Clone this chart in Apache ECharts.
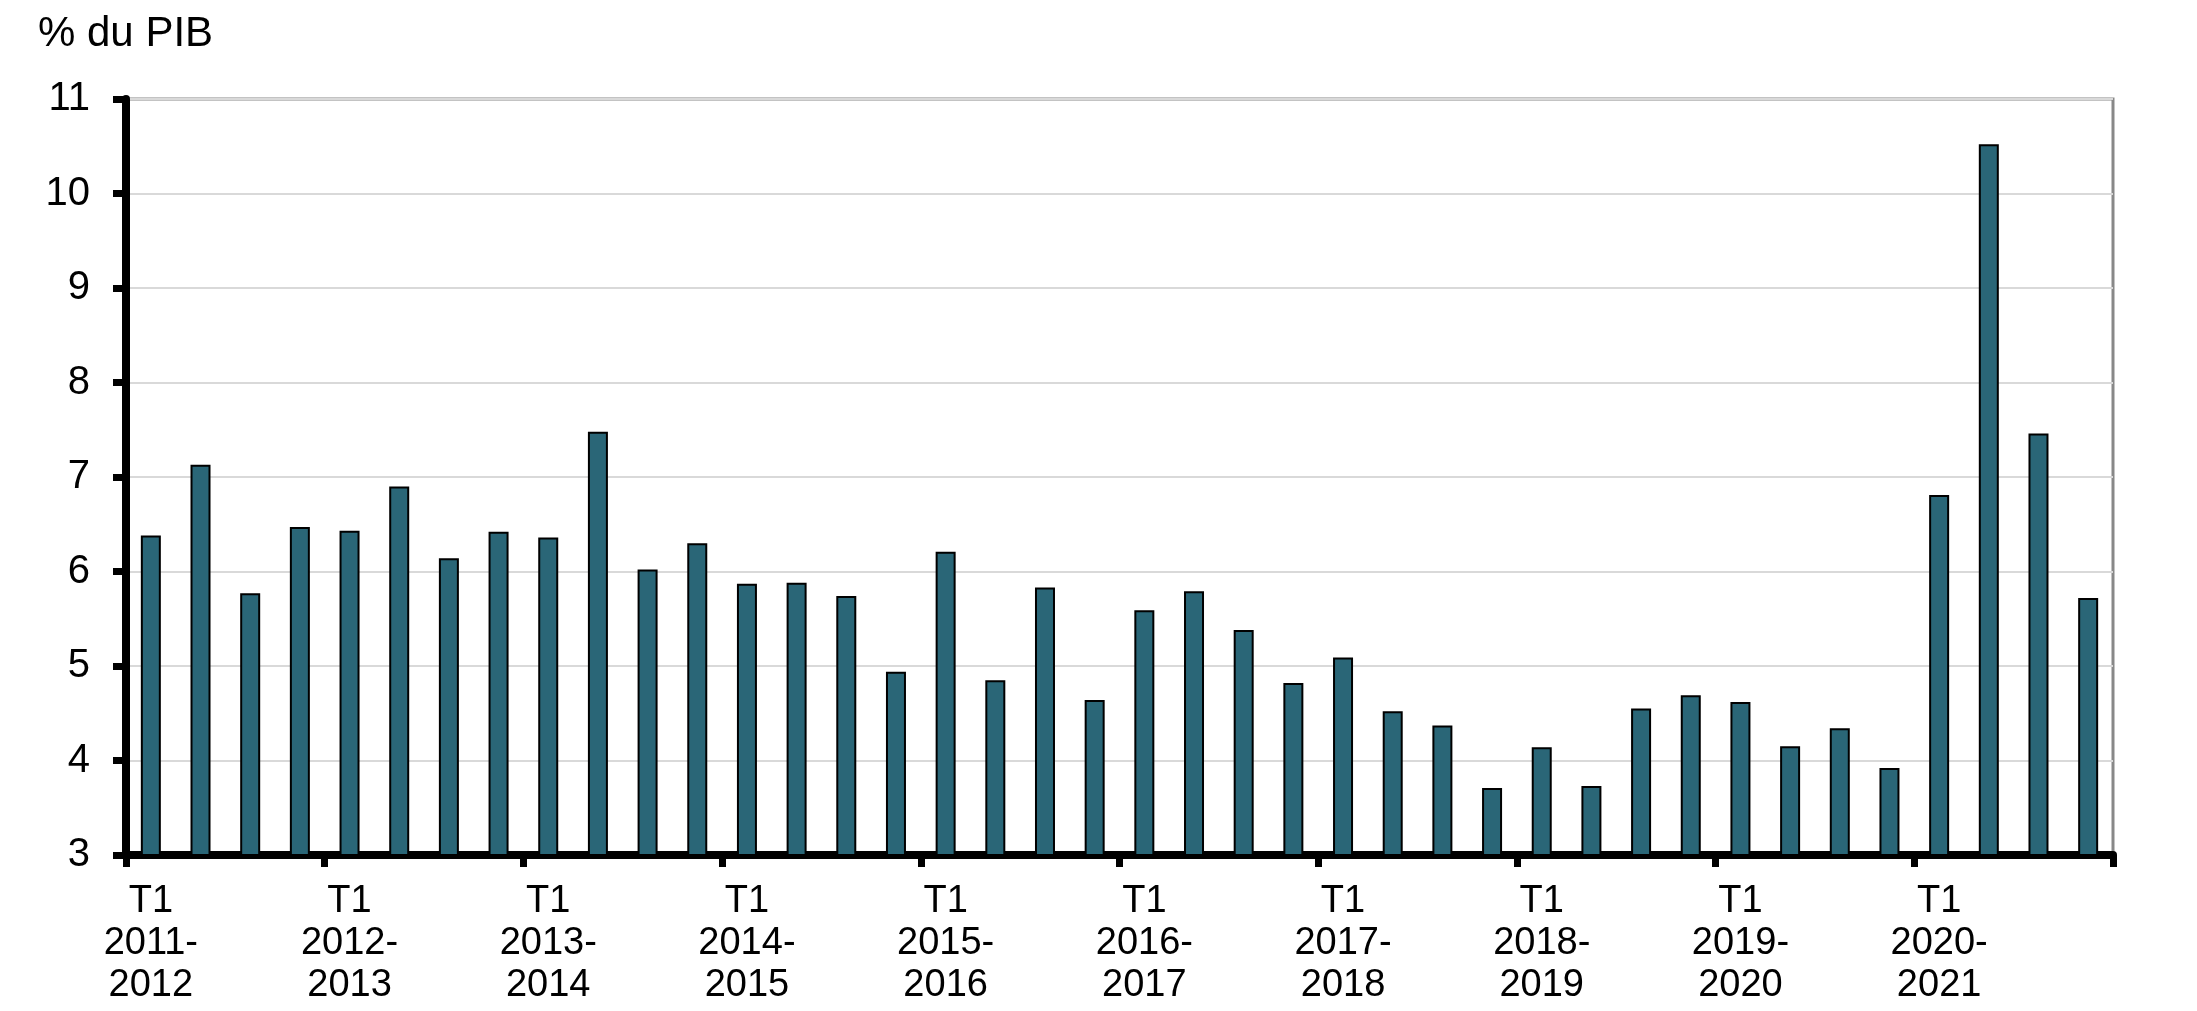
<!DOCTYPE html>
<html>
<head>
<meta charset="utf-8">
<script src="https://cdn.jsdelivr.net/npm/echarts@6/dist/echarts.min.js"></script>
<style>
  html, body { margin: 0; padding: 0; background: #ffffff; }
  #chart { width: 2197px; height: 1011px; }
</style>
</head>
<body>
<div id="chart"></div>
<script>
// ---- Data ----
const quarters = ['T1', 'T2', 'T3', 'T4'];
const fiscalYears = ['2011-2012', '2012-2013', '2013-2014', '2014-2015', '2015-2016',
                     '2016-2017', '2017-2018', '2018-2019', '2019-2020', '2020-2021'];
const values = [
  6.38, 7.13, 5.77, 6.47,
  6.43, 6.90, 6.14, 6.42,
  6.36, 7.48, 6.02, 6.30,
  5.87, 5.88, 5.74, 4.94,
  6.21, 4.85, 5.83, 4.64,
  5.59, 5.79, 5.38, 4.82,
  5.09, 4.52, 4.37, 3.71,
  4.14, 3.73, 4.55, 4.69,
  4.62, 4.15, 4.34, 3.92,
  6.81, 10.52, 7.46, 5.72
];
const yTicks = [3, 4, 5, 6, 7, 8, 9, 10, 11];
const yTitle = '% du PIB';

const categories = [];
fiscalYears.forEach(fy => quarters.forEach(q => categories.push(q + ' ' + fy)));

const FONT = '"Liberation Sans", Arial, sans-serif';

const chart = echarts.init(document.getElementById('chart'), null, { renderer: 'canvas' });
chart.setOption({
  animation: false,
  backgroundColor: '#ffffff',
  graphic: [{
    type: 'text',
    x: 38, y: 34,
    style: {
      text: yTitle,
      font: '42px "Liberation Sans", Arial, sans-serif',
      fill: '#000',
      textAlign: 'left',
      textVerticalAlign: 'middle'
    }
  }],
  grid: {
    left: 126, right: 84, top: 99, bottom: 156,
    show: true, borderColor: '#888888', borderWidth: 3, backgroundColor: 'transparent'
  },
  xAxis: {
    type: 'category',
    data: categories,
    boundaryGap: true,
    axisLine: { lineStyle: { color: '#000', width: 8 } },
    axisTick: { show: true, interval: 3, length: 12, lineStyle: { color: '#000', width: 7 } },
    axisLabel: {
      interval: 3,
      margin: 26,
      fontFamily: FONT, fontSize: 38, color: '#000', lineHeight: 42,
      formatter: v => v.replace(' ', '\n').replace('-', '-\n')
    },
    splitLine: { show: false }
  },
  yAxis: {
    type: 'value',
    min: yTicks[0], max: yTicks[yTicks.length - 1], interval: 1,
    axisLine: { show: true, lineStyle: { color: '#000', width: 8 } },
    axisTick: { show: true, length: 13, lineStyle: { color: '#000', width: 7 } },
    axisLabel: { margin: 36, fontFamily: FONT, fontSize: 40, color: '#000' },
    splitLine: { show: true, lineStyle: { color: '#d9d9d9', width: 2 } }
  },
  series: [{
    type: 'bar',
    data: values,
    barWidth: 20,
    itemStyle: { color: '#2a6677', borderColor: '#000', borderWidth: 2 }
  }]
});
</script>
</body>
</html>
